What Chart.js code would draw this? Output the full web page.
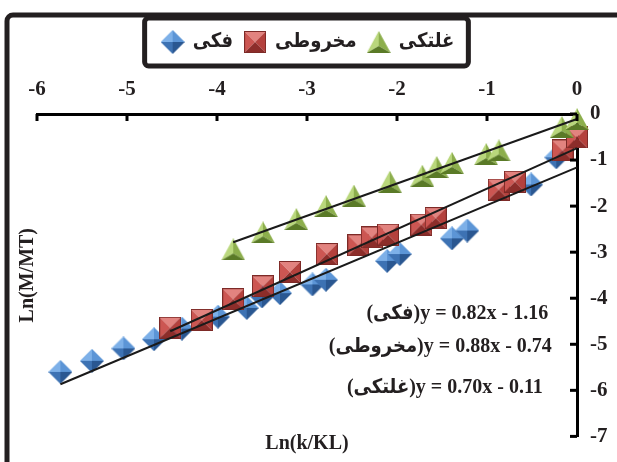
<!DOCTYPE html>
<html>
<head>
<meta charset="utf-8">
<script src="https://cdn.jsdelivr.net/npm/chart.js@4.4.0/dist/chart.umd.min.js"></script>
<style>
html, body { margin: 0; padding: 0; background: #fff; overflow: hidden; }
</style>
</head>
<body>
<canvas id="chart" width="617" height="462"></canvas>
<script>
// series names (legend order)
const seriesNames = ['فکی', 'مخروطی', 'غلتکی'];

// فکی
const jawX = [-5.74, -5.39, -5.04, -4.70, -4.39, -3.99, -3.67, -3.50, -3.30, -2.94, -2.79, -2.11, -1.97, -1.39, -1.22, -0.51, -0.23];
const jawY = [-5.60, -5.36, -5.09, -4.89, -4.66, -4.40, -4.21, -3.96, -3.89, -3.70, -3.60, -3.19, -3.04, -2.70, -2.53, -1.53, -0.94];

// مخروطی
const coneX = [-4.52, -4.17, -3.82, -3.49, -3.19, -2.78, -2.43, -2.28, -2.10, -1.73, -1.57, -0.87, -0.69, -0.16, 0.0];
const coneY = [-4.64, -4.47, -4.02, -3.74, -3.43, -3.04, -2.85, -2.68, -2.62, -2.40, -2.26, -1.64, -1.47, -0.79, -0.51];

// غلتکی
const rollX = [-3.82, -3.49, -3.12, -2.79, -2.48, -2.08, -1.72, -1.56, -1.39, -1.01, -0.87, -0.17, 0.0];
const rollY = [-2.94, -2.57, -2.28, -2.00, -1.77, -1.47, -1.34, -1.15, -1.06, -0.87, -0.79, -0.28, -0.11];

// trend line equations
const slopes = [0.82, 0.88, 0.70];
const intercepts = [-1.16, -0.74, -0.11];

const xTicks = [-6, -5, -4, -3, -2, -1, 0];
const yTicks = [0, -1, -2, -3, -4, -5, -6, -7];

const FONT = "'Liberation Serif', 'DejaVu Sans Condensed', 'DejaVu Sans', serif";

// little pyramid shaded markers like the excel ones
function facet(ctx, pts, color) {
    ctx.beginPath();
    ctx.moveTo(pts[0][0], pts[0][1]);
    for (let i = 1; i < pts.length; i++) ctx.lineTo(pts[i][0], pts[i][1]);
    ctx.closePath();
    ctx.fillStyle = color;
    ctx.fill();
}

function diamondImg() {
    const c = document.createElement('canvas');
    c.width = 24; c.height = 24;
    const g = c.getContext('2d');
    const m = [12, 12];
    facet(g, [[12, 0], [0, 12], m], '#7db0e8');
    facet(g, [[12, 0], [24, 12], m], '#5c95d6');
    facet(g, [[0, 12], [12, 24], m], '#3d72b3');
    facet(g, [[24, 12], [12, 24], m], '#2a5791');
    return c;
}

function squareImg() {
    const c = document.createElement('canvas');
    c.width = 22; c.height = 22;
    const g = c.getContext('2d');
    const m = [11, 11];
    facet(g, [[0, 0], [22, 0], m], '#e2837f');
    facet(g, [[0, 0], [0, 22], m], '#cc5652');
    facet(g, [[22, 0], [22, 22], m], '#b4413d');
    facet(g, [[0, 22], [22, 22], m], '#8c2d2a');
    g.strokeStyle = '#7d2a27';
    g.lineWidth = 1;
    g.strokeRect(0.5, 0.5, 21, 21);
    return c;
}

function triangleImg() {
    const c = document.createElement('canvas');
    c.width = 24; c.height = 22;
    const g = c.getContext('2d');
    const m = [12, 15];
    facet(g, [[12, 0], [0, 22], m], '#b9d77c');
    facet(g, [[12, 0], [24, 22], m], '#8cae4c');
    facet(g, [[0, 22], [24, 22], m], '#5a7a27');
    return c;
}

const markers = [diamondImg(), squareImg(), triangleImg()];
const xs = [jawX, coneX, rollX];
const ys = [jawY, coneY, rollY];

const datasets = [];
// scatter series, red drawn over blue, green over red
seriesNames.forEach((name, i) => {
    datasets.push({
        label: name,
        data: xs[i].map((v, k) => ({ x: v, y: ys[i][k] })),
        pointStyle: markers[i],
        pointRadius: 12,
        showLine: false,
        clip: false,
        order: 3 - i
    });
});
// trend lines from first point to x = 0
seriesNames.forEach((name, i) => {
    const x0 = Math.min(...xs[i]);
    datasets.push({
        label: 'trend' + i,
        type: 'line',
        data: [{ x: x0, y: slopes[i] * x0 + intercepts[i] }, { x: 0, y: intercepts[i] }],
        borderColor: '#1a1a1a',
        borderWidth: 2,
        pointRadius: 0,
        clip: false,
        order: -1
    });
});

const eqAnchor = [[-0.32, -4.34], [-0.28, -5.06], [-0.38, -5.94]];

const decor = {
    id: 'decor',
    beforeDraw(chart) {
        const ctx = chart.ctx;
        ctx.save();
        ctx.fillStyle = '#fff';
        ctx.fillRect(0, 0, chart.width, chart.height);
        // outer frame, cropped on right and bottom
        ctx.strokeStyle = '#231f20';
        ctx.lineWidth = 5;
        ctx.beginPath();
        ctx.moveTo(7, 480);
        ctx.lineTo(7, 21);
        ctx.arcTo(7, 15, 13, 15, 6);
        ctx.lineTo(640, 15);
        ctx.stroke();
        ctx.restore();
    },
    afterDraw(chart) {
        const { ctx, scales: { x, y } } = chart;
        ctx.save();
        // inward tick marks
        ctx.strokeStyle = '#000';
        ctx.lineWidth = 3;
        x.ticks.forEach(t => {
            const px = x.getPixelForValue(t.value);
            ctx.beginPath();
            ctx.moveTo(px, y.top);
            ctx.lineTo(px, y.top + 7);
            ctx.stroke();
        });
        y.ticks.forEach(t => {
            const py = y.getPixelForValue(t.value);
            ctx.beginPath();
            ctx.moveTo(x.right, py);
            ctx.lineTo(x.right - 7, py);
            ctx.stroke();
        });

        // legend frame
        const hb = chart.legend.legendHitBoxes;
        if (hb && hb.length) {
            const l = Math.min(...hb.map(h => h.left)) - 18;
            const r = Math.max(...hb.map(h => h.left + h.width)) + 14;
            const t = Math.min(...hb.map(h => h.top)) - 14;
            const b = Math.max(...hb.map(h => h.top + h.height)) + 14;
            ctx.strokeStyle = '#231f20';
            ctx.lineWidth = 5;
            ctx.beginPath();
            ctx.roundRect(l, t, r - l, b - t, 4);
            ctx.stroke();
        }

        // trend line equations
        ctx.fillStyle = '#231f20';
        ctx.font = 'bold 20px ' + FONT;
        ctx.textAlign = 'right';
        ctx.textBaseline = 'middle';
        seriesNames.forEach((name, i) => {
            const txt = '(' + name + ')y = ' + slopes[i].toFixed(2) + 'x - ' + Math.abs(intercepts[i]).toFixed(2);
            ctx.fillText(txt, x.getPixelForValue(eqAnchor[i][0]), y.getPixelForValue(eqAnchor[i][1]));
        });
        ctx.restore();
    }
};

const ctx = document.getElementById('chart').getContext('2d');
const chart = new Chart(ctx, {
    type: 'scatter',
    data: { datasets: datasets },
    options: {
        responsive: false,
        animation: false,
        layout: { padding: { top: 20, left: 0, right: 0, bottom: 0 } },
        plugins: {
            tooltip: { enabled: false },
            legend: {
                position: 'top',
                labels: {
                    usePointStyle: true,
                    boxWidth: 20,
                    padding: 12,
                    color: '#231f20',
                    font: { family: FONT, size: 20, weight: 'bold' },
                    filter: item => item.datasetIndex < 3,
                    sort: (a, b) => a.datasetIndex - b.datasetIndex
                }
            }
        },
        scales: {
            x: {
                type: 'linear',
                position: 'top',
                min: xTicks[0],
                max: xTicks[xTicks.length - 1],
                ticks: {
                    stepSize: 1,
                    color: '#231f20',
                    padding: 12,
                    font: { family: FONT, size: 21, weight: 'bold' }
                },
                grid: { display: false, drawTicks: false },
                border: { display: true, color: '#000', width: 3 },
                afterFit: s => { s.height = 114 - 20 - s.chart.legend.height; }
            },
            y: {
                type: 'linear',
                position: 'right',
                min: yTicks[yTicks.length - 1],
                max: yTicks[0],
                ticks: {
                    stepSize: 1,
                    color: '#231f20',
                    padding: 13,
                    font: { family: FONT, size: 21, weight: 'bold' }
                },
                grid: { display: false, drawTicks: false },
                border: { display: true, color: '#000', width: 3 },
                afterFit: s => { s.width = 40; }
            },
            x2: {
                type: 'linear',
                position: 'bottom',
                ticks: { display: false },
                grid: { display: false, drawTicks: false },
                border: { display: false },
                title: {
                    display: true,
                    text: 'Ln(k/KL)',
                    color: '#231f20',
                    padding: { top: 0, bottom: 0 },
                    font: { family: FONT, size: 20, weight: 'bold' }
                },
                afterFit: s => { s.height = 19; }
            },
            y2: {
                type: 'linear',
                position: 'left',
                ticks: { display: false },
                grid: { display: false, drawTicks: false },
                border: { display: false },
                title: {
                    display: true,
                    text: 'Ln(M/MT)',
                    color: '#231f20',
                    padding: { top: 16, bottom: 0 },
                    font: { family: FONT, size: 20, weight: 'bold' }
                },
                afterFit: s => { s.width = 37; }
            }
        }
    },
    plugins: [decor]
});
</script>
</body>
</html>
